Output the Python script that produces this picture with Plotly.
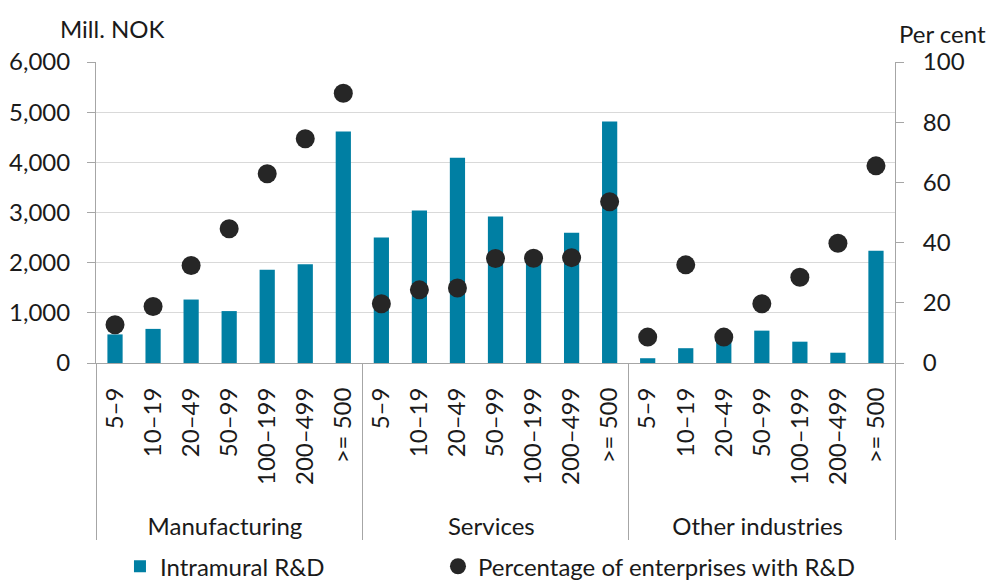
import plotly.graph_objects as go
from plotly.subplots import make_subplots

groups = ["Manufacturing", "Services", "Other industries"]
sizes = ["5–9", "10–19", "20–49", "50–99", "100–199", "200–499", ">= 500"]

rd_manufacturing = [570, 680, 1265, 1035, 1860, 1970, 4615]
rd_services = [2500, 3040, 4090, 2920, 2100, 2595, 4815]
rd_other = [95, 295, 450, 645, 425, 205, 2240]

pct_manufacturing = [12.7, 18.8, 32.4, 44.6, 62.9, 74.5, 89.6]
pct_services = [19.7, 24.3, 24.9, 34.7, 34.8, 35.0, 53.6]
pct_other = [8.6, 32.6, 8.6, 19.7, 28.5, 39.8, 65.5]

# leading no-break spaces only extend each rotated label's box downwards,
# which pushes the group labels lower like in the reference
PAD = "\u00a0" * 3
x_outer = [g for g in groups for _ in sizes]
x_inner = [PAD + s for s in sizes] * len(groups)
rd = rd_manufacturing + rd_services + rd_other
pct = pct_manufacturing + pct_services + pct_other

FONT = "Lato"
FS = 24
TXT = "#1a1a1a"
AX = "#a6a6a6"

fig = make_subplots(specs=[[{"secondary_y": True}]])
fig.add_trace(go.Bar(x=[x_outer, x_inner], y=rd, name="Intramural R&D",
                     marker=dict(color="#007fa3", line=dict(width=0)), width=0.4,
                     legend="legend"),
              secondary_y=False)
fig.add_trace(go.Scatter(x=[x_outer, x_inner], y=pct, mode="markers",
                         name="Percentage of enterprises with R&D",
                         marker=dict(color="#262626", size=19, symbol="circle"),
                         legend="legend2"),
              secondary_y=True)

leg_common = dict(orientation="h", yref="container", y=0.028, yanchor="middle",
                  xanchor="left", font=dict(size=FS, color=TXT), bgcolor="rgba(0,0,0,0)",
                  itemwidth=30, tracegroupgap=0)
fig.update_layout(
    width=990, height=583,
    margin=dict(l=96, r=95, t=62, b=220, autoexpand=False),
    plot_bgcolor="white", paper_bgcolor="white",
    font=dict(family=FONT, size=FS, color=TXT),
    bargap=0.6,
    showlegend=True,
    legend=dict(x=0.030, **leg_common),
    legend2=dict(x=0.428, **leg_common),
)
fig.add_annotation(text="Mill. NOK", xref="paper", yref="paper", x=-0.048, y=1.11,
                   xanchor="left", yanchor="middle", showarrow=False, font=dict(size=FS, color=TXT))
fig.add_annotation(text="Per cent", xref="paper", yref="paper", x=1.003, y=1.096,
                   xanchor="left", yanchor="middle", showarrow=False, font=dict(size=FS, color=TXT))

fig.update_xaxes(type="multicategory", tickangle=-90, showline=True, linecolor=AX, linewidth=1,
                 ticks="", showdividers=True, dividercolor=AX, dividerwidth=1,
                 tickfont=dict(size=FS, color=TXT), range=[-0.5, 20.5], domain=[0, 1],
                 automargin=False, ticklabelstandoff=14)
fig.update_yaxes(range=[0, 6000], dtick=1000, tickformat=",d", showgrid=True, gridcolor="#d9d9d9",
                 gridwidth=1, showline=True, linecolor=AX, ticks="outside", ticklen=8, tickcolor=AX,
                 ticklabelstandoff=12, automargin=False,
                 tickfont=dict(size=FS, color=TXT), zeroline=False, secondary_y=False)
fig.update_yaxes(range=[0, 100], dtick=20, showgrid=False, showline=True, linecolor=AX,
                 ticks="outside", ticklen=8, tickcolor=AX, ticklabelstandoff=14, automargin=False,
                 tickfont=dict(size=FS, color=TXT), zeroline=False, secondary_y=True)

fig.write_html("out.html")
